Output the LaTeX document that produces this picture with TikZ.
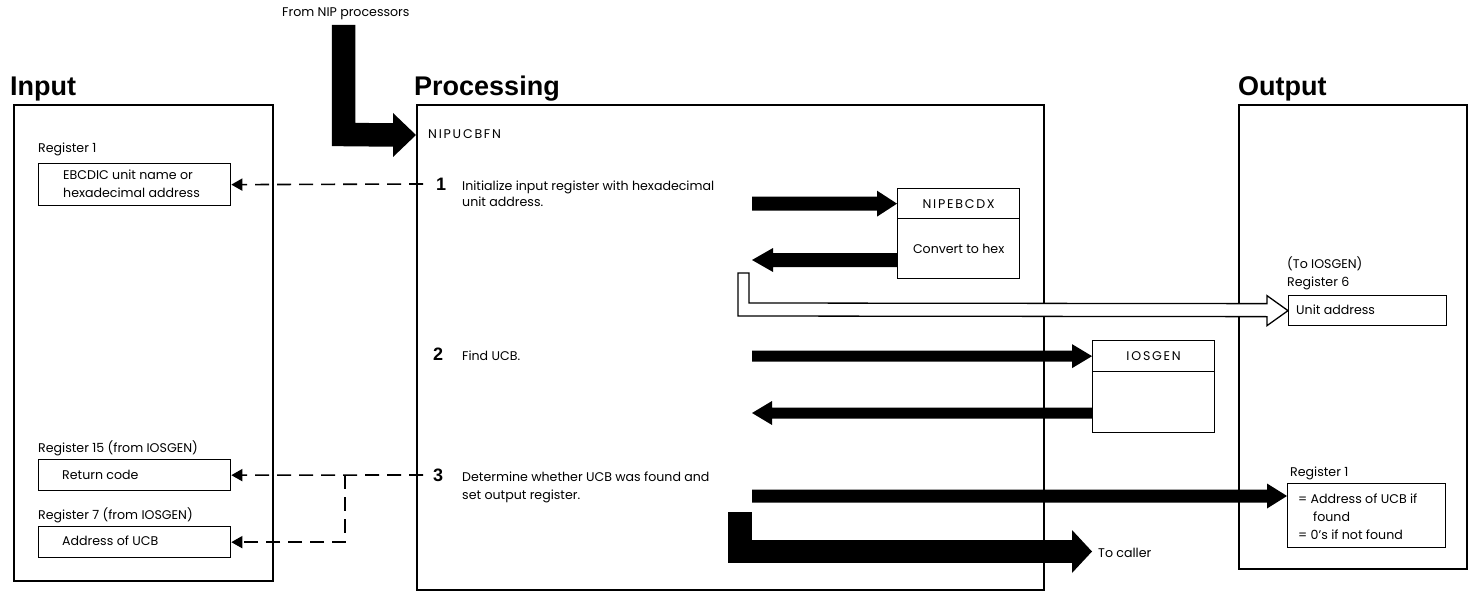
\documentclass[tikz,border=0pt]{standalone}
\usepackage{fontspec}
\setmainfont{Poppins}
\newfontfamily\hv{Liberation Sans}
\newfontfamily\capsfont[LetterSpace=14]{Poppins}
\usetikzlibrary{calc,arrows.meta}
\newcommand\bodyfont{\fontsize{12.6}{16}\selectfont}
% horizontal fat arrow: start, tip, half shaft, half head, head length
\newcommand\fatarrow[5]{%
  \fill let \p1=(#1), \p2=(#2), \n1={ifthenelse(\x2>\x1,1,-1)} in
    (\x1,{\y2+#3}) -- ({\x2-(\n1*#5)},{\y2+#3}) -- ({\x2-(\n1*#5)},{\y2+#4})
    -- (\x2,\y2) -- ({\x2-(\n1*#5)},{\y2-#4}) -- ({\x2-(\n1*#5)},{\y2-#3})
    -- (\x1,{\y2-#3}) -- cycle;}
\begin{document}
\begin{tikzpicture}[x=1pt,y=-1pt,
  frame/.style={draw, line width=1.8pt, inner sep=0, anchor=north west},
  reg/.style={draw, line width=1.3pt, inner sep=0, anchor=north west},
  txt/.style={inner sep=0, anchor=base west, font=\bodyfont},
  capstxt/.style={font=\capsfont\bodyfont},
  ttl/.style={inner sep=0, anchor=base west, font=\hv\bfseries\fontsize{27}{30}\selectfont},
  num/.style={inner sep=0, anchor=base west, font=\hv\bfseries\fontsize{18}{20}\selectfont},
  dashconn/.style={dash pattern=on 14pt off 8pt, line width=1.6pt, -{Triangle[length=11pt,width=12pt]}},
  hollow/.style={draw, line width=1.3pt, fill=white, line join=miter},
  fat/.style={line width=23.5pt, line join=miter}]
\useasboundingbox (0,0) rectangle (1468,591);

% frames and titles
\node[frame, minimum width=259pt, minimum height=476pt] (inbox) at (13,104) {};
\node[frame, minimum width=627pt, minimum height=485pt] (procbox) at (416,104) {};
\node[frame, minimum width=228pt, minimum height=464pt] (outbox) at (1238,104) {};
\node[ttl] (tin) at (10,96) {Input};
\node[ttl] (tproc) at (414,96) {Processing};
\node[ttl] (tout) at (1238,96) {Output};

% input registers
\node[txt] (r1lab) at (38,153) {Register 1};
\node[reg, minimum width=192pt, minimum height=42pt] (r1) at (38,163) {};
\node[txt] (r1a) at (63,180) {EBCDIC unit name or};
\node[txt] (r1b) at (63,197) {hexadecimal address};
\node[txt] (r15lab) at (38,452) {Register 15 (from IOSGEN)};
\node[reg, minimum width=192pt, minimum height=31pt] (r15) at (38,459) {};
\node[txt] (r15a) at (62,479) {Return code};
\node[txt] (r7lab) at (38,519) {Register 7 (from IOSGEN)};
\node[reg, minimum width=192pt, minimum height=31pt] (r7) at (38,526) {};
\node[txt] (r7a) at (62,545) {Address of UCB};

% processing text
\node[txt] (fromnip) at (282,17) {From NIP processors};
\node[txt, capstxt] (nipucbfn) at (428,139) {NIPUCBFN};
\node[num] (n1) at (436,190) {1};
\node[txt] (s1a) at (462,190) {Initialize input register with hexadecimal};
\node[txt] (s1b) at (462,207) {unit address.};
\node[num] (n2) at (433,360) {2};
\node[txt] (s2a) at (462,360) {Find UCB.};
\node[num] (n3) at (433,481) {3};
\node[txt] (s3a) at (462,481) {Determine whether UCB was found and};
\node[txt] (s3b) at (462,499) {set output register.};

% called modules
\node[reg, minimum width=122pt, minimum height=30pt, capstxt] (ebc) at (897,188) {NIPEBCDX};
\node[reg, minimum width=122pt, minimum height=60pt, font=\bodyfont] (ebcl) at (897,218) {Convert to hex};
\node[reg, minimum width=122pt, minimum height=31pt, capstxt] (ios) at (1092,340) {IOSGEN};
\node[reg, minimum width=122pt, minimum height=61pt] (iosl) at (1092,371) {};

% output registers
\node[txt] (toios) at (1287,268) {(To IOSGEN)};
\node[txt] (r6lab) at (1287,286) {Register 6};
\node[reg, minimum width=158pt, minimum height=30pt] (ua) at (1288,295) {};
\node[txt] (uat) at (1296,314) {Unit address};
\node[txt] (ro1lab) at (1290,476) {Register 1};
\node[reg, minimum width=158pt, minimum height=64pt] (ro1) at (1287,483) {};
\node[txt] (ro1a) at (1298,503) {= Address of UCB if};
\node[txt] (ro1b) at (1313,521) {found};
\node[txt] (ro1c) at (1298,539) {= 0's if not found};
\node[txt] (caller) at (1098,557) {To caller};

% dashed connectors
\coordinate (d1) at (423,184);
\draw[dashconn] (d1) -- (r1.east);
\coordinate (d3) at (423,475);
\draw[dashconn] (d3) -- (r15.east);
\coordinate (d3b) at (345,475);
\draw[dashconn] (d3b) |- (r7.east);

% From NIP processors arrow
\coordinate (nipA) at (343.5,25);
\coordinate (nipB) at (343.5,134.5);
\coordinate (nipTip) at ($(procbox.north west)+(0,31)$);
\draw[fat] (nipA) -- (nipB) -- ($(nipTip)+(-22,0)$);
\fill ($(nipTip)+(-23,-22)$) -- (nipTip) -- ($(nipTip)+(-23,22)$) -- cycle;

% fat arrows of step 1
\coordinate (a1s) at (752,203);
\fatarrow{a1s}{ebc.west}{7}{13}{20}
\coordinate (a1r) at (897,260);
\coordinate (a1e) at (752,260);
\fatarrow{a1r}{a1e}{7}{12}{21}

% step 2
\coordinate (a2s) at (752,355.5);
\fatarrow{a2s}{ios.west}{5.5}{12}{20}
\coordinate (a2r) at (1092,413);
\coordinate (a2e) at (752,413);
\fatarrow{a2r}{a2e}{5.5}{12}{20}

% step 3
\coordinate (a3s) at (752,496);
\coordinate (a3e) at ($(ro1.north west)+(0,13)$);
\fatarrow{a3s}{a3e}{6.5}{12.5}{20}

% to caller
\coordinate (cA) at (740,512);
\coordinate (cB) at (740,551.5);
\coordinate (cTip) at (1092,551.5);
\draw[fat] (cA) -- (cB) -- ($(cTip)+(-19,0)$);
\fill ($(cTip)+(-20,-21.5)$) -- (cTip) -- ($(cTip)+(-20,21.5)$) -- cycle;

% hollow arrow to Register 6
\draw[hollow] (738,273) -- (749,273) -- (749,303) -- ($(ua.west)+(-21,-7)$)
  -- ($(ua.west)+(-21,-15)$) -- (ua.west) -- ($(ua.west)+(-21,15)$)
  -- ($(ua.west)+(-21,6)$) -- (738,316) -- cycle;
\end{tikzpicture}
\end{document}
